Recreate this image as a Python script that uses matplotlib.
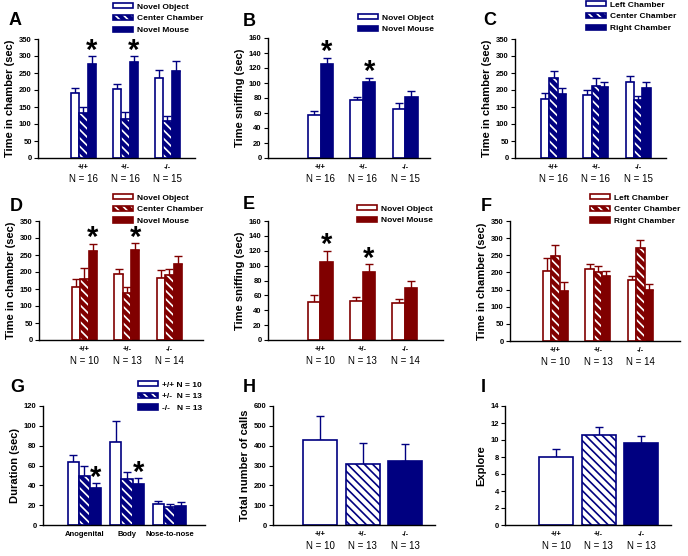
import numpy as np
import matplotlib.pyplot as plt
from matplotlib.patches import Patch

plt.rcParams['font.family'] = ['Liberation Sans', 'DejaVu Sans']
plt.rcParams['hatch.linewidth'] = 1.2

NAVY = '#000080'
DRED = '#800000'
HATCH = '\\\\\\\\'

genotypes = ['+/+', '+/-', '-/-']
n_row1 = ['N = 16', 'N = 16', 'N = 15']
n_row2 = ['N = 10', 'N = 13', 'N = 14']
n_row3 = ['N = 10', 'N = 13', 'N = 13']

# A: three chamber, time in chamber
a_obj, a_obj_err = [190, 202, 235], [15, 15, 25]
a_cen, a_cen_err = [132, 115, 108], [17, 20, 17]
a_mou, a_mou_err = [277, 282, 257], [22, 18, 27]
# B: sniffing
b_obj, b_obj_err = [58, 77, 66], [5, 5, 8]
b_mou, b_mou_err = [125, 101, 82], [9, 6, 8]
# C: habituation
c_left, c_left_err = [175, 185, 225], [15, 15, 17]
c_cen, c_cen_err = [235, 212, 170], [20, 22, 13]
c_right, c_right_err = [188, 210, 205], [18, 15, 19]
# D
d_obj, d_obj_err = [155, 195, 183], [23, 13, 22]
d_cen, d_cen_err = [180, 137, 190], [33, 18, 20]
d_mou, d_mou_err = [263, 266, 224], [20, 19, 23]
# E
e_obj, e_obj_err = [51, 53, 50], [9, 5, 5]
e_mou, e_mou_err = [105, 92, 70], [15, 10, 9]
# F
f_left, f_left_err = [205, 210, 178], [38, 15, 13]
f_cen, f_cen_err = [248, 200, 272], [32, 20, 23]
f_right, f_right_err = [146, 189, 148], [25, 15, 17]
# G: reciprocal social interaction
g_categories = ['Anogenital', 'Body', 'Nose-to-nose']
g_wt, g_wt_err = [64, 84, 21], [7, 21, 3]
g_het, g_het_err = [49, 46, 18], [10, 7, 3]
g_ko, g_ko_err = [37, 41, 19], [5, 6, 4]
# H: calls
h_calls, h_calls_err = [427, 310, 322], [125, 105, 87]
# I: explore
i_explore, i_explore_err = [8.0, 10.6, 9.6], [1.0, 0.9, 0.9]

W, H = 688, 556
fig = plt.figure(figsize=(W / 100, H / 100), dpi=100)


def make_ax(l, t, r, b, xlim, ylim, yticks, ylabel, letter, lx, ly):
    ax = fig.add_axes([l / W, 1 - b / H, (r - l) / W, (b - t) / H])
    ax.set_xlim(*xlim)
    ax.set_ylim(*ylim)
    ax.set_yticks(yticks)
    ax.set_xticks([])
    for s in ['top', 'right']:
        ax.spines[s].set_visible(False)
    for s in ['left', 'bottom']:
        ax.spines[s].set_linewidth(1.0)
    ax.tick_params(axis='y', labelsize=5.5, length=3, width=0.8, pad=1.5)
    for lb in ax.get_yticklabels():
        lb.set_fontweight('bold')
    ax.set_ylabel(ylabel, fontsize=8, fontweight='bold', labelpad=3)
    fig.text(lx / W, 1 - ly / H, letter, fontsize=13, fontweight='bold',
             va='baseline', ha='left')
    return ax


def bars(ax, x, h, err, style, color, w):
    x = np.asarray(x, float)
    if style == 'open':
        ax.bar(x, h, w, facecolor='white', edgecolor=color, lw=1.2, zorder=2)
    elif style == 'hatch':
        ax.bar(x, h, w, facecolor=color, edgecolor='white', hatch=HATCH, lw=0, zorder=2)
        ax.bar(x, h, w, fill=False, edgecolor=color, lw=1.2, zorder=3)
    elif style == 'whitehatch':
        ax.bar(x, h, w, facecolor='white', edgecolor=color, hatch=HATCH, lw=1.2, zorder=2)
    else:
        ax.bar(x, h, w, facecolor=color, edgecolor=color, lw=1.2, zorder=2)
    ax.errorbar(x, h, yerr=[np.zeros(len(h)), err], fmt='none', ecolor=color,
                elinewidth=1, capsize=2.7, capthick=1, zorder=1)


def handle(style, color):
    if style == 'open':
        return Patch(facecolor='white', edgecolor=color, lw=1.2)
    if style == 'hatch':
        return (Patch(facecolor=color, edgecolor='white', hatch=HATCH, lw=0),
                Patch(fill=False, edgecolor=color, lw=1.2))
    return Patch(facecolor=color, edgecolor=color, lw=1.2)


def legend(ax, styles, color, labels, lx, ty):
    hs = [handle(s, color) for s in styles]
    ax.legend(hs, labels, loc='upper left', bbox_to_anchor=(lx / W, 1 - ty / H),
              bbox_transform=fig.transFigure, frameon=False,
              prop={'size': 6, 'weight': 'bold'}, handlelength=2.4,
              handleheight=0.6, handletextpad=0.5, labelspacing=0.5,
              borderpad=0, borderaxespad=0)


def xlabels(ax, top, bottom):
    for i in range(3):
        ax.annotate(top[i], (i + 1, 0), xycoords=('data', 'axes fraction'),
                    xytext=(0, -6.5), textcoords='offset points', ha='center',
                    va='center', fontsize=5.5, fontweight='bold', annotation_clip=False)
        if bottom is not None:
            ax.annotate(bottom[i], (i + 1, 0), xycoords=('data', 'axes fraction'),
                        xytext=(0, -15), textcoords='offset points', ha='center',
                        va='center', fontsize=7, annotation_clip=False)


def star(ax, x, top):
    ax.annotate('*', (x, top), xytext=(0, 4), textcoords='offset points',
                ha='center', va='center', fontsize=21, fontweight='bold')


grp = np.arange(1, 4)

# ---- row 1
ax = make_ax(38, 39, 195, 158, (-0.083, 3.655), (0, 350), range(0, 351, 50),
             'Time in chamber (sec)', 'A', 9, 25)
w = 0.198
bars(ax, grp - w, a_obj, a_obj_err, 'open', NAVY, w)
bars(ax, grp, a_cen, a_cen_err, 'hatch', NAVY, w)
bars(ax, grp + w, a_mou, a_mou_err, 'solid', NAVY, w)
for i in [0, 1]:
    star(ax, grp[i] + w, a_mou[i] + a_mou_err[i])
xlabels(ax, genotypes, n_row1)
legend(ax, ['open', 'hatch', 'solid'], NAVY,
       ['Novel Object', 'Center Chamber', 'Novel Mouse'], 113, 3)

ax = make_ax(268, 38, 430, 158, (-0.243, 3.59), (0, 160), range(0, 161, 20),
             'Time sniffing (sec)', 'B', 243, 26)
w = 0.296
bars(ax, grp - w / 2, b_obj, b_obj_err, 'open', NAVY, w)
bars(ax, grp + w / 2, b_mou, b_mou_err, 'solid', NAVY, w)
for i in [0, 1]:
    star(ax, grp[i] + w / 2, b_mou[i] + b_mou_err[i])
xlabels(ax, genotypes, n_row1)
legend(ax, ['open', 'solid'], NAVY, ['Novel Object', 'Novel Mouse'], 358, 14)

ax = make_ax(515, 39, 666, 158, (0.089, 3.66), (0, 350), range(0, 351, 50),
             'Time in chamber (sec)', 'C', 483, 25)
w = 0.197
bars(ax, grp - w, c_left, c_left_err, 'open', NAVY, w)
bars(ax, grp, c_cen, c_cen_err, 'hatch', NAVY, w)
bars(ax, grp + w, c_right, c_right_err, 'solid', NAVY, w)
xlabels(ax, genotypes, n_row1)
legend(ax, ['open', 'hatch', 'solid'], NAVY,
       ['Left Chamber', 'Center Chamber', 'Right Chamber'], 586, 1)

# ---- row 2
ax = make_ax(39, 221, 203, 340, (-0.07, 3.79), (0, 350), range(0, 351, 50),
             'Time in chamber (sec)', 'D', 10, 211)
w = 0.196
bars(ax, grp - w, d_obj, d_obj_err, 'open', DRED, w)
bars(ax, grp, d_cen, d_cen_err, 'hatch', DRED, w)
bars(ax, grp + w, d_mou, d_mou_err, 'solid', DRED, w)
for i in [0, 1]:
    star(ax, grp[i] + w, d_mou[i] + d_mou_err[i])
xlabels(ax, genotypes, n_row2)
legend(ax, ['open', 'hatch', 'solid'], DRED,
       ['Novel Object', 'Center Chamber', 'Novel Mouse'], 113, 194)

ax = make_ax(268, 221, 443, 340, (-0.24, 3.9), (0, 160), range(0, 161, 20),
             'Time sniffing (sec)', 'E', 243, 209)
w = 0.296
bars(ax, grp - w / 2, e_obj, e_obj_err, 'open', DRED, w)
bars(ax, grp + w / 2, e_mou, e_mou_err, 'solid', DRED, w)
for i in [0, 1]:
    star(ax, grp[i] + w / 2, e_mou[i] + e_mou_err[i])
xlabels(ax, genotypes, n_row2)
legend(ax, ['open', 'solid'], DRED, ['Novel Object', 'Novel Mouse'], 357, 205)

ax = make_ax(510, 221, 680, 341, (-0.07, 3.93), (0, 350), range(0, 351, 50),
             'Time in chamber (sec)', 'F', 481, 211)
w = 0.196
bars(ax, grp - w, f_left, f_left_err, 'open', DRED, w)
bars(ax, grp, f_cen, f_cen_err, 'hatch', DRED, w)
bars(ax, grp + w, f_right, f_right_err, 'solid', DRED, w)
xlabels(ax, genotypes, n_row2)
legend(ax, ['open', 'hatch', 'solid'], DRED,
       ['Left Chamber', 'Center Chamber', 'Right Chamber'], 590, 194)

# ---- row 3
ax = make_ax(43, 406, 205, 525, (0.024, 3.835), (0, 120), range(0, 121, 20),
             'Duration (sec)', 'G', 10, 392)
w = 0.26
bars(ax, grp - w, g_wt, g_wt_err, 'open', NAVY, w)
bars(ax, grp, g_het, g_het_err, 'hatch', NAVY, w)
bars(ax, grp + w, g_ko, g_ko_err, 'solid', NAVY, w)
for i in [0, 1]:
    star(ax, grp[i] + w, g_ko[i] + g_ko_err[i])
xlabels(ax, g_categories, None)
legend(ax, ['open', 'hatch', 'solid'], NAVY,
       ['+/+ N = 10', '+/-  N = 13', '-/-   N = 13'], 138, 381)

ax = make_ax(273, 406, 435, 525, (-0.106, 3.7), (0, 600), range(0, 601, 100),
             'Total number of calls', 'H', 243, 392)
w = 0.8
styles = ['open', 'whitehatch', 'solid']
for i in range(3):
    bars(ax, grp[i:i + 1], h_calls[i:i + 1], h_calls_err[i:i + 1], styles[i], NAVY, w)
xlabels(ax, genotypes, n_row3)

ax = make_ax(505, 406, 671, 525, (-0.2, 3.7), (0, 14), range(0, 15, 2),
             'Explore', 'I', 481, 392)
for i in range(3):
    bars(ax, grp[i:i + 1], i_explore[i:i + 1], i_explore_err[i:i + 1], styles[i], NAVY, w)
xlabels(ax, genotypes, n_row3)

fig.savefig('out.png', dpi=100)
